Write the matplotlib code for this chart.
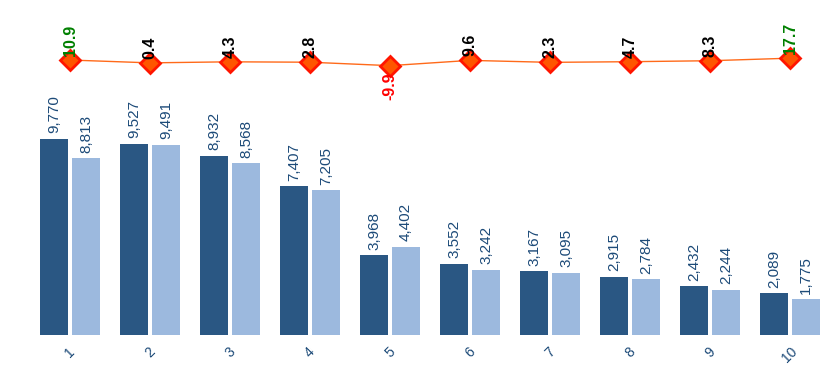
import matplotlib
matplotlib.use("Agg")
import matplotlib.pyplot as plt
import numpy as np

plt.rcParams['font.family'] = ['Liberation Sans', 'DejaVu Sans']

categories = ["1", "2", "3", "4", "5", "6", "7", "8", "9", "10"]
series_a = [9770, 9527, 8932, 7407, 3968, 3552, 3167, 2915, 2432, 2089]
series_b = [8813, 9491, 8568, 7205, 4402, 3242, 3095, 2784, 2244, 1775]
change = [10.9, 0.4, 4.3, 2.8, -9.9, 9.6, 2.3, 4.7, 8.3, 17.7]

dark = '#2a5783'
light = '#9cb9de'
text_blue = '#1c4a78'

W, H = 834, 367
fig = plt.figure(figsize=(W / 100, H / 100), dpi=100)

x = np.arange(len(categories))
# bar axes
ax = fig.add_axes([30 / W, 1 - 335 / H, 800 / W, 245 / H])
bw = 0.36
ba = ax.bar(x - 0.2, series_a, width=bw, color=dark)
bb = ax.bar(x + 0.2, series_b, width=bw, color=light)
ax.set_xlim(-0.5, len(categories) - 0.5)
ax.set_ylim(0, 12212)
for bars, vals in ((ba, series_a), (bb, series_b)):
    for r, v in zip(bars, vals):
        ax.annotate(f"{v:,}", (r.get_x() + r.get_width() / 2, v),
                    xytext=(0, 4), textcoords='offset points',
                    rotation=90, ha='center', va='bottom',
                    fontsize=11, color=text_blue)
for s in ax.spines.values():
    s.set_visible(False)
ax.set_yticks([])
ax.set_xticks(x)
ax.set_xticklabels(categories, rotation=45, fontsize=10, color=text_blue)
ax.tick_params(axis='x', length=0, pad=7)

# line axes
lx = fig.add_axes([30 / W, 1 - 90 / H, 800 / W, 90 / H])
lx.plot(x, change, color='#ff6a1a', linewidth=1, marker='D', markersize=10.5,
        markerfacecolor='#ff5500', markeredgecolor='#ff1500', markeredgewidth=2,
        zorder=2)
lx.set_xlim(-0.5, len(categories) - 0.5)
lx.set_ylim(-100, 233)
lx.axis('off')
for xi, v in zip(x, change):
    if v < 0:
        col, off, va = '#ff0000', -5, 'top'
    elif v >= 10:
        col, off, va = '#008000', 3, 'bottom'
    else:
        col, off, va = '#000000', 3, 'bottom'
    lx.annotate(f"{v}", (xi, v), xytext=(0, off), textcoords='offset points',
                rotation=90, ha='center', va=va, fontsize=11.5,
                fontweight='bold', color=col, annotation_clip=False, zorder=5)

fig.savefig("out.png", dpi=100)
